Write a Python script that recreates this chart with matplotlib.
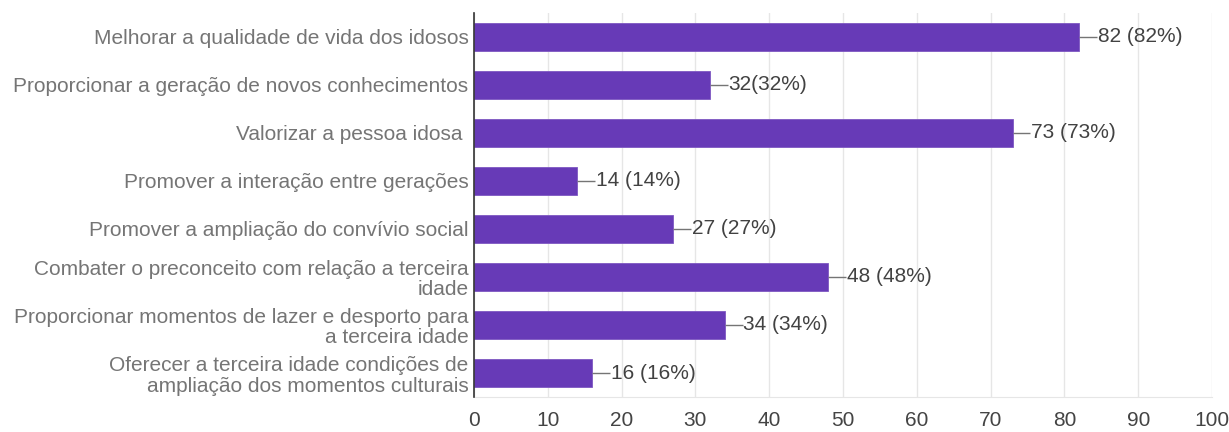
import matplotlib
matplotlib.use("Agg")
import matplotlib.pyplot as plt
from matplotlib import font_manager

categories = [
    "Melhorar a qualidade de vida dos idosos",
    "Proporcionar a geração de novos conhecimentos",
    "Valorizar a pessoa idosa ",
    "Promover a interação entre gerações",
    "Promover a ampliação do convívio social",
    "Combater o preconceito com relação a terceira\nidade",
    "Proporcionar momentos de lazer e desporto para\na terceira idade",
    "Oferecer a terceira idade condições de\nampliação dos momentos culturais",
]
counts = [82, 32, 73, 14, 27, 48, 34, 16]
value_labels = ["82 (82%)", "32(32%)", "73 (73%)", "14 (14%)",
                "27 (27%)", "48 (48%)", "34 (34%)", "16 (16%)"]
x_ticks = [0, 10, 20, 30, 40, 50, 60, 70, 80, 90, 100]

names = {f.name for f in font_manager.fontManager.ttflist}
family = ["Liberation Sans Narrow", "DejaVu Sans"] if "Liberation Sans Narrow" in names else ["Liberation Sans", "DejaVu Sans"]
plt.rcParams["font.family"] = family

BAR = "#673ab7"
fig = plt.figure(figsize=(12.29, 4.32), dpi=100)
ax = fig.add_axes([0.3857, 0.081, 0.6005, 0.889])

y = list(range(len(categories)))
ax.barh(y, counts, height=0.6, color=BAR, edgecolor="#7e57c2", linewidth=0.6, zorder=3)

for yi, v, lab in zip(y, counts, value_labels):
    ax.plot([v, v + 2.4], [yi, yi], color="#757575", linewidth=1.0, zorder=4, solid_capstyle="butt")
    ax.text(v + 2.5, yi, lab, ha="left", va="center", fontsize=15, color="#424242", zorder=5)

ax.set_xlim(0, 100)
ax.set_ylim(len(categories) - 0.5, -0.5)
ax.set_xticks(x_ticks)
ax.set_xticklabels([str(t) for t in x_ticks], fontsize=15, color="#444444")
ax.set_yticks(y)
ax.set_yticklabels(categories, fontsize=15, color="#757575", linespacing=1.1)
ax.tick_params(axis="both", length=0)
ax.tick_params(axis="y", pad=4)
ax.tick_params(axis="x", pad=10)

ax.grid(axis="x", color="#e6e6e6", linewidth=1.0, zorder=0)
for side in ("top", "right"):
    ax.spines[side].set_visible(False)
ax.spines["bottom"].set_color("#e6e6e6")
ax.spines["left"].set_color("#333333")
ax.spines["left"].set_linewidth(1.2)
ax.spines["left"].set_zorder(6)

fig.savefig("out.png", dpi=100)
